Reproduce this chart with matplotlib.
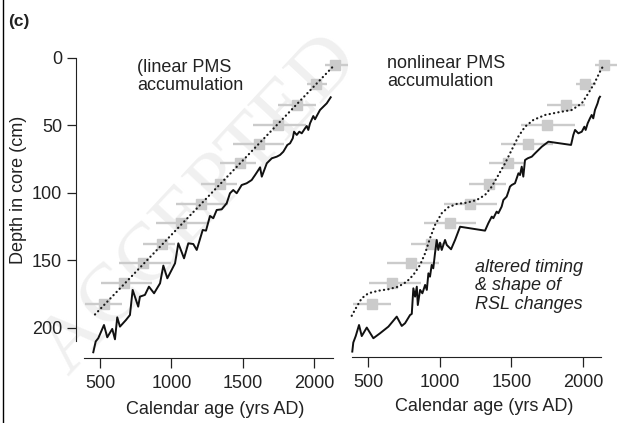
import matplotlib
matplotlib.use("Agg")
import matplotlib.pyplot as plt
from matplotlib.lines import Line2D

plt.rcParams['font.family'] = ['Liberation Sans', 'DejaVu Sans']

# dated samples (same in both panels): calendar age (yrs AD) and depth (cm)
age_pts = [527, 670, 803, 936, 1071, 1210, 1342, 1478, 1615, 1748, 1878, 2015, 2145]
depth_pts = [182, 167, 152, 138, 122, 108, 93, 78, 64, 50, 35, 19, 5]
age_lo = [396, 505, 635, 803, 893, 1032, 1206, 1343, 1430, 1570, 1750, 1948, 2080]
age_hi = [657, 868, 996, 1027, 1254, 1397, 1462, 1592, 1792, 1945, 2012, 2090, 2235]

# age-depth model, linear
lin_age = [465, 2145]
lin_depth = [190, 5]

# age-depth model, nonlinear
nl_age = [386, 421, 456, 502, 572, 642, 711, 770, 816, 863, 898, 932, 967, 1014,
          1060, 1119, 1188, 1258, 1316, 1363, 1409, 1456, 1502, 1548, 1595, 1653,
          1735, 1828, 1921, 1991, 2037, 2079, 2118, 2148]
nl_depth = [191, 184.2, 178, 174.3, 172.4, 171.3, 169.4, 165.7, 160.7, 153.3, 144.7,
            133.6, 123.7, 115, 110.6, 108.1, 107.2, 105.2, 101.5, 95.3, 86.7, 78,
            68.1, 58.3, 50.9, 45.9, 42.2, 40.2, 38.5, 33.6, 26.1, 18.7, 10.1, 4.4]

# RSL record, linear case
rsl_lin_age = [453, 470, 488, 528, 551, 586, 605, 621, 640, 682, 710, 729, 768, 780,
               815, 843, 879, 921, 944, 972, 1026, 1049, 1089, 1119, 1154, 1178, 1220,
               1243, 1271, 1294, 1318, 1353, 1388, 1411, 1434, 1458, 1493, 1528, 1563,
               1587, 1610, 1622, 1634, 1669, 1704, 1739, 1762, 1785, 1813, 1832, 1851,
               1860, 1879, 1897, 1914, 1937, 1949, 1960, 1972, 1995, 2007, 2023, 2042,
               2065, 2089, 2117]
rsl_lin_depth = [218, 210, 207.6, 197.8, 206.9, 200.7, 208.4, 192.1, 199, 194.1, 190.4,
                 171.8, 184.2, 176.8, 175.5, 169.4, 174.3, 166.9, 153.8, 163.2, 152.1,
                 137.3, 148.4, 137.3, 137.8, 142.2, 127.4, 127.9, 117, 118.7, 112.6,
                 112.1, 107.6, 100.2, 97.8, 100.2, 94.1, 92.8, 90.4, 86.7, 83, 81, 87.9,
                 78, 74.3, 73.1, 71.8, 69.4, 64.4, 63.2, 59.5, 54.6, 57, 54.6, 55.8,
                 52.1, 50.4, 53.3, 48.4, 43, 45.4, 42.2, 38.5, 36.1, 33.6, 29.1]

# RSL record, nonlinear case
rsl_nl_age = [390, 397, 414, 437, 456, 491, 537, 584, 642, 700, 735, 758, 793, 805,
              816, 828, 840, 847, 863, 879, 898, 910, 921, 932, 944, 955, 967, 979,
              990, 1002, 1014, 1037, 1049, 1079, 1107, 1142, 1316, 1339, 1363, 1374,
              1397, 1409, 1432, 1444, 1467, 1479, 1490, 1502, 1525, 1537, 1549, 1560,
              1572, 1583, 1595, 1614, 1642, 1665, 1712, 1758, 1916, 1932, 1944, 1967,
              1991, 2009, 2018, 2032, 2048, 2060, 2071, 2083, 2101, 2111, 2118]
rsl_nl_depth = [217.5, 210.8, 206, 197.8, 206, 199.7, 207.6, 203.9, 199, 191.6, 198.5,
                196.5, 190.4, 189.6, 170.6, 176.8, 169.4, 183, 171.8, 174.3, 168.1,
                171.8, 159.5, 162, 153.3, 155.8, 144.7, 134.8, 142.2, 136.8, 142.2,
                134.8, 138.5, 141.7, 134.8, 125, 127.9, 122.4, 117.5, 118.7, 113.8, 115,
                110.1, 105.2, 102.7, 99, 95.3, 94.1, 92.8, 89.1, 85.4, 86.7, 80.5, 87.9,
                75.6, 74.3, 73.1, 70.6, 65.7, 62, 64.4, 57, 53.3, 55.8, 54.6, 50.9,
                53.3, 48.4, 44.7, 42.2, 44.7, 38.5, 33.6, 29.8, 28.7]

x_ticks = [500, 1000, 1500, 2000]
y_ticks = [0, 50, 100, 150, 200]

W, H = 620, 423
txt = '#222222'
grey = '#cbcbcb'


def box(x0, x1, y0, y1):
    # pixel box -> figure fraction
    return [x0 / W, 1 - y1 / H, (x1 - x0) / W, (y1 - y0) / H]


fig = plt.figure(figsize=(W / 100, H / 100), dpi=100)

# faint watermark, kept behind the axes
fig.text(200 / W, 1 - 205 / H, 'ACCEPTED', rotation=47, fontsize=60,
         family='Liberation Serif', color='#f0f0f0', ha='center', va='center',
         zorder=-5)

ax1 = fig.add_axes(box(84, 333, 52.6, 352))
ax2 = fig.add_axes(box(352, 601, 52.6, 352))


def panel(ax, xmax, model_age, model_depth, rsl_age, rsl_depth):
    ax.patch.set_alpha(0)
    xerr = [[a - lo for a, lo in zip(age_pts, age_lo)],
            [hi - a for a, hi in zip(age_pts, age_hi)]]
    ax.errorbar(age_pts, depth_pts, xerr=xerr, fmt='s', color=grey, ecolor=grey,
                elinewidth=1.7, markersize=7.5, capsize=0, zorder=1, clip_on=False)
    ax.plot(model_age, model_depth, color='#1a1a1a', lw=1.6, linestyle=(0, (0.1, 1.9)),
            dash_capstyle='round', zorder=3, clip_on=False)
    ax.plot(rsl_age, rsl_depth, color='#111111', lw=1.4, zorder=2, clip_on=False)
    ax.set_xlim(388, xmax)
    ax.set_ylim(217.8, -4)
    ax.set_xticks(x_ticks)
    for s in ['top', 'right']:
        ax.spines[s].set_visible(False)
    ax.spines['bottom'].set_color(txt)
    ax.spines['left'].set_color(txt)
    ax.tick_params(axis='x', length=7, width=0.9, pad=5.5, colors=txt, labelsize=13)
    ax.set_xlabel('Calendar age (yrs AD)', fontsize=13, color=txt)


panel(ax1, 2133, lin_age, lin_depth, rsl_lin_age, rsl_lin_depth)
panel(ax2, 2125, nl_age, nl_depth, rsl_nl_age, rsl_nl_depth)

# left panel keeps the depth axis, detached from the age axis
ax1.spines['left'].set_position(('outward', 5.8))
ax1.spines['left'].set_bounds(0, 210)
ax1.spines['bottom'].set_position(('outward', 4.3))
ax1.set_yticks(y_ticks)
ax1.tick_params(axis='y', length=6.5, width=0.9, pad=3.5, colors=txt, labelsize=13)
ax1.xaxis.set_label_coords(0.526, -0.164)

ax2.spines['left'].set_visible(False)
ax2.set_yticks([])
ax2.spines['bottom'].set_position(('outward', 3.6))
ax2.xaxis.set_label_coords(0.530, -0.154)

ax1.text(0.213, 0.979, '(linear PMS\naccumulation', transform=ax1.transAxes,
         fontsize=13, color=txt, va='top', ha='left', linespacing=1.1)
ax2.text(0.1406, 0.992, 'nonlinear PMS\naccumulation', transform=ax2.transAxes,
         fontsize=13, color=txt, va='top', ha='left', linespacing=1.1)
ax2.text(0.494, 0.310, 'altered timing\n& shape of\nRSL changes', transform=ax2.transAxes,
         fontsize=13, color=txt, va='top', ha='left', style='italic', linespacing=1.1)

fig.text(19 / W, 1 - 190 / H, 'Depth in core (cm)', rotation=90, fontsize=13,
         color=txt, ha='center', va='center')
fig.text(8 / W, 1 - 14 / H, '(c)', fontsize=12.5, fontweight='bold', color=txt,
         ha='left', va='top')

# frame edge on the left side
fig.add_artist(Line2D([2.5 / W, 2.5 / W], [0, 1], color='black', lw=1.0))

fig.savefig('out.png', dpi=100)
